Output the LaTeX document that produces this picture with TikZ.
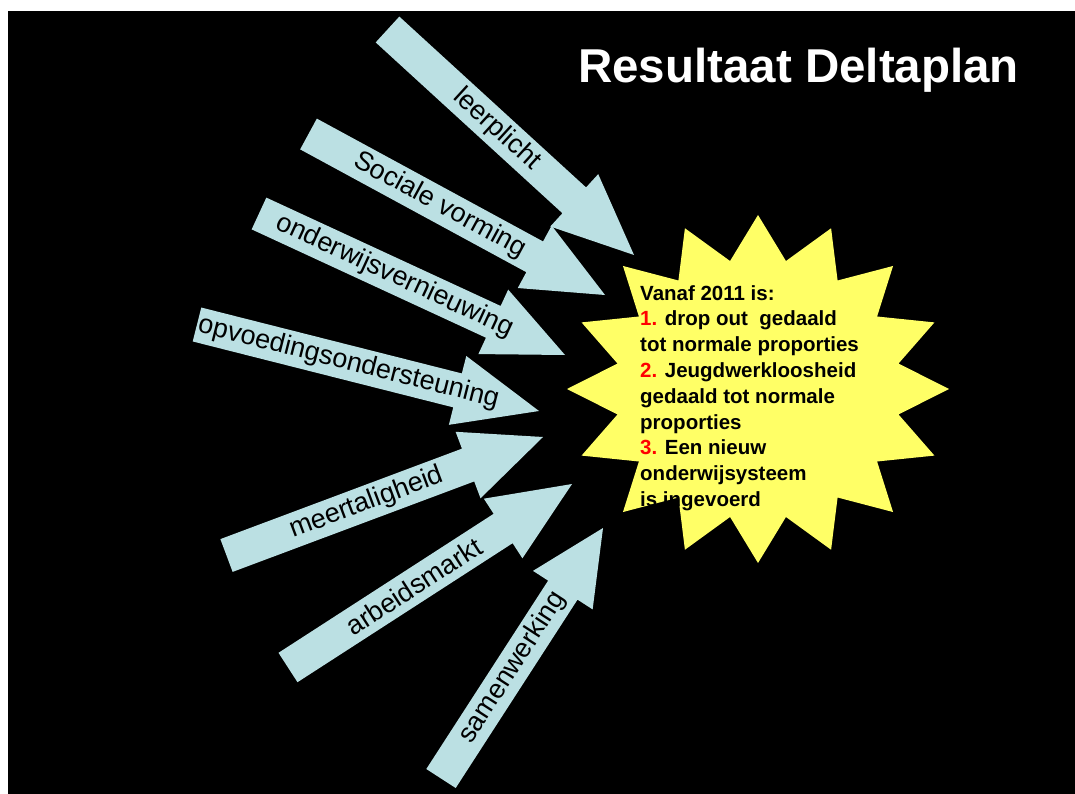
\documentclass[tikz,border=0pt]{standalone}
\usepackage{fontspec}
\setmainfont{Liberation Sans}
\usetikzlibrary{calc}
\definecolor{arrowblue}{HTML}{BBE0E3}
\definecolor{staryellow}{HTML}{FFFF66}
\definecolor{numred}{HTML}{FF0000}
\tikzset{
  arrowbody/.style={fill=arrowblue},
  arrowlabel/.style={sloped, pos=0.443, font=\fontsize{27}{32}\selectfont, text=black, inner sep=0pt},
  starfill/.style={fill=staryellow},
  startext/.style={font=\bfseries\fontsize{20.5}{25.8}\selectfont, text=black, align=left, inner sep=0pt},
  titletext/.style={font=\bfseries\fontsize{47.5}{56}\selectfont, text=white, inner sep=0pt}
}
\newcommand{\deltaarrow}[4]{%
  \coordinate (#1-t) at #2;
  \coordinate (#1-p) at #3;
  \coordinate (#1-b) at ($(#1-p)!#4pt!(#1-t)$);
  \fill[arrowbody] ($(#1-t)!17.5pt!90:(#1-p)$) -- ($(#1-b)!17.5pt!90:(#1-p)$)
    -- ($(#1-b)!35.5pt!90:(#1-p)$) -- (#1-p) -- ($(#1-b)!35.5pt!-90:(#1-p)$)
    -- ($(#1-b)!17.5pt!-90:(#1-p)$) -- ($(#1-t)!17.5pt!-90:(#1-p)$) -- cycle;
}
\begin{document}
\begin{tikzpicture}[x=1pt,y=-1pt]
\useasboundingbox[fill=white] (0,0) rectangle (1075,794);
\fill[black] (8,11) rectangle (1075,794);

% star
\begin{scope}[shift={(758,389)}]
\fill[starfill] (191,0) \foreach \k in {1,...,31} { -- ({191*(1-0.25*mod(\k,2))*cos(\k*11.25)}, {174*(1-0.25*mod(\k,2))*sin(\k*11.25)}) } -- cycle;
\end{scope}

% arrows
\deltaarrow{sam}{(441,778.5)}{(603,528)}{74}
\deltaarrow{arb}{(288,667.5)}{(572,484)}{82}
\deltaarrow{meer}{(226.5,555.5)}{(543,437)}{80}
\deltaarrow{opv}{(197,324.5)}{(539,411)}{84}
\deltaarrow{ond}{(259,213.5)}{(565,355)}{79}
\deltaarrow{soc}{(308.5,134)}{(605,295)}{80}
\deltaarrow{leer}{(387.5,29.5)}{(634,255)}{81}

\path (leer-t) -- (leer-p) node[arrowlabel] (leer-l) {leerplicht};
\path (soc-t) -- (soc-p) node[arrowlabel] (soc-l) {Sociale vorming};
\path (ond-t) -- (ond-p) node[arrowlabel] (ond-l) {onderwijsvernieuwing};
\path (opv-t) -- (opv-p) node[arrowlabel] (opv-l) {opvoedingsondersteuning};
\path (meer-t) -- (meer-p) node[arrowlabel] (meer-l) {meertaligheid};
\path (arb-t) -- (arb-p) node[arrowlabel] (arb-l) {arbeidsmarkt};
\path (sam-t) -- (sam-p) node[arrowlabel] (sam-l) {samenwerking};

% title
\node[titletext, anchor=base west] (title) at (578,83) {Resultaat Deltaplan};

% star text
\node[startext, anchor=north west] (result) at (640,285) {Vanaf 2011 is:\\
{\color{numred}1.} drop out\ \ gedaald\\
tot normale proporties\\
{\color{numred}2.} Jeugdwerkloosheid\\
gedaald tot normale\\
proporties\\
{\color{numred}3.} Een nieuw\\
onderwijsysteem\\
is ingevoerd};
\end{tikzpicture}
\end{document}
